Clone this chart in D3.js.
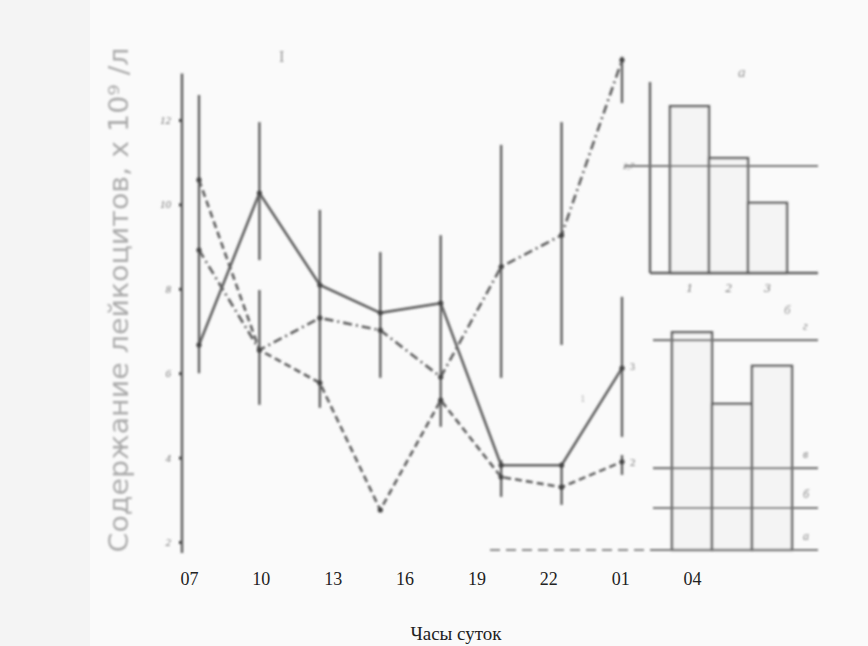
<!DOCTYPE html>
<html>
<head>
<meta charset="utf-8">
<script src="https://cdn.jsdelivr.net/npm/d3@7"></script>
<style>
  body { margin: 0; background: #fafafa; }
  svg { display: block; }
</style>
</head>
<body>
<svg id="chart" width="868" height="646"></svg>
<script>
// hours of the day (x categories)
const hours = ["07", "10", "13", "16", "19", "22", "01", "04"];

// leukocyte count, x 10^9 /l
const series1 = [6.67, 10.27, 8.09, 7.43, 7.66, 3.82, 3.82, 6.12];   // solid
const series2 = [10.58, 6.55, 5.77, 2.76, 5.36, 3.54, 3.30, 3.90];   // dashed
const series3 = [8.92, 6.55, 7.31, 7.02, 5.91, 8.52, 9.27, 13.42];   // dash-dot

// error bar segments: [hour, low, high]
const errorBars = [
    ["07", 6.0, 12.59],
    ["10", 8.68, 11.95], ["10", 5.25, 7.97],
    ["13", 5.18, 9.87],
    ["16", 5.89, 8.87],
    ["19", 4.73, 9.27],
    ["22", 5.89, 11.41], ["22", 3.07, 3.94],
    ["01", 6.67, 11.95], ["01", 2.88, 3.82],
    ["04", 4.49, 7.81], ["04", 3.59, 4.06], ["04", 12.4, 13.5]
];

const yTicks = [2, 4, 6, 8, 10, 12];

// panel a (upper bars)
const barsA = ["1", "2", "3"];
const valuesA = [4.21, 2.90, 1.77];
const refA = 2.7;

// panel б (lower bars)
const valuesB = [5.5, 3.69, 4.65];
const levelsB = [
    { name: "г", value: 5.3 },
    { name: "в", value: 2.07 },
    { name: "б", value: 1.06 },
    { name: "а", value: 0 }
];

const svg = d3.select("#chart");
const ink = "#606060";

// slight blur to mimic the scanned print
const defs = svg.append("defs");
defs.append("filter").attr("id", "soft")
    .append("feGaussianBlur").attr("stdDeviation", 0.8);

svg.append("rect").attr("width", 90).attr("height", 646).attr("fill", "#f4f4f4");

const g = svg.append("g").attr("filter", "url(#soft)");

// scales
const x = d3.scalePoint().domain(hours).range([199, 622]);
const xLab = d3.scalePoint().domain(hours).range([189, 692]);
const y = d3.scaleLinear().domain([2, 12]).range([542, 120]);

// y axis
const yAxis = d3.axisLeft(y).tickValues(yTicks).tickSize(3).tickPadding(8);
const ya = g.append("g").attr("transform", "translate(182,0)").call(yAxis);
ya.select(".domain").remove();
ya.append("line").attr("y1", y(13.1)).attr("y2", y(1.74))
    .attr("stroke", ink).attr("stroke-width", 2.5);
ya.selectAll(".tick line").attr("stroke", "#333").attr("stroke-width", 3);
ya.selectAll(".tick text").attr("fill", "#777").style("font-size", "11px")
    .style("font-family", "Liberation Serif").style("font-style", "italic");

// error bars
g.selectAll(".err")
    .data(errorBars)
    .join("line")
    .attr("x1", d => x(d[0])).attr("x2", d => x(d[0]))
    .attr("y1", d => y(d[1])).attr("y2", d => y(d[2]))
    .attr("stroke", ink).attr("stroke-width", 2.4);

// lines
const line = d3.line().x((d, i) => x(hours[i])).y(d => y(d));
const allSeries = [
    { values: series1, dash: null },
    { values: series2, dash: "7,4" },
    { values: series3, dash: "9,4,2,4" }
];
allSeries.forEach(s => {
    g.append("path")
        .datum(s.values)
        .attr("d", line)
        .attr("fill", "none")
        .attr("stroke", ink)
        .attr("stroke-width", 2.6)
        .attr("stroke-dasharray", s.dash);
    g.selectAll(null)
        .data(s.values)
        .join("circle")
        .attr("cx", (d, i) => x(hours[i]))
        .attr("cy", d => y(d))
        .attr("r", 2.6)
        .attr("fill", "#444");
});

// line labels
g.append("text").attr("x", x("04") + 8).attr("y", y(series1[7]) + 2).text("3")
    .attr("fill", "#777").style("font-size", "10px").style("font-family", "Liberation Serif");
g.append("text").attr("x", x("04") + 8).attr("y", y(series2[7]) + 4).text("2")
    .attr("fill", "#777").style("font-size", "11px").style("font-family", "Liberation Serif");
g.append("text").attr("x", 580).attr("y", 402).text("1")
    .attr("fill", "#bbb").style("font-size", "11px").style("font-family", "Liberation Serif");
g.append("text").attr("x", 279).attr("y", 62).text("I")
    .attr("fill", "#999").style("font-size", "16px").style("font-family", "Liberation Serif");

// x labels
const xAxis = d3.axisBottom(xLab).tickSize(0).tickPadding(0);
const xa = svg.append("g").attr("transform", "translate(0,572)").call(xAxis);
xa.select(".domain").remove();
xa.selectAll(".tick text").attr("fill", "#222")
    .style("font-size", "18px").style("font-family", "Liberation Serif");

svg.append("text").attr("x", 456).attr("y", 640).attr("text-anchor", "middle")
    .text("Часы суток").attr("fill", "#222")
    .style("font-size", "19px").style("font-family", "Liberation Serif");

// y title
svg.append("text")
    .attr("transform", "translate(128,300) rotate(-90)")
    .attr("text-anchor", "middle")
    .attr("textLength", 505)
    .attr("lengthAdjust", "spacingAndGlyphs")
    .attr("fill", "#ababab")
    .attr("filter", "url(#soft)")
    .style("font-size", "27px").style("font-family", "DejaVu Sans")
    .text("Содержание лейкоцитов, x 10⁹ /л");

// panel a
const xa2 = d3.scaleBand().domain(barsA).range([670, 787]).padding(0);
const ya2 = d3.scaleLinear().domain([0, 4.82]).range([273, 82]);
g.append("line").attr("x1", 650).attr("x2", 650).attr("y1", ya2(4.82)).attr("y2", ya2(0))
    .attr("stroke", ink).attr("stroke-width", 2.4);
g.selectAll(".barA")
    .data(valuesA)
    .join("rect")
    .attr("x", (d, i) => xa2(barsA[i]))
    .attr("y", d => ya2(d))
    .attr("width", xa2.bandwidth())
    .attr("height", d => ya2(0) - ya2(d))
    .attr("fill", "#f4f4f4")
    .attr("stroke", ink).attr("stroke-width", 2.4);
g.append("line").attr("x1", 650).attr("x2", 818).attr("y1", ya2(0)).attr("y2", ya2(0))
    .attr("stroke", ink).attr("stroke-width", 2.4);
g.append("line").attr("x1", 624).attr("x2", 818).attr("y1", ya2(refA)).attr("y2", ya2(refA))
    .attr("stroke", "#777").attr("stroke-width", 2.2);
g.append("text").attr("x", 623).attr("y", ya2(refA) + 3).text("2,7")
    .attr("fill", "#888").style("font-size", "9px").style("font-family", "Liberation Serif").style("font-style", "italic");
g.selectAll(".labA")
    .data(barsA)
    .join("text")
    .attr("x", d => xa2(d) + xa2.bandwidth() / 2)
    .attr("y", 292)
    .attr("text-anchor", "middle")
    .text(d => d)
    .attr("fill", "#777").style("font-size", "13px").style("font-family", "Liberation Serif").style("font-style", "italic");
g.append("text").attr("x", 738).attr("y", 77).text("а")
    .attr("fill", "#999").style("font-size", "15px").style("font-family", "Liberation Serif").style("font-style", "italic");

// panel б
const xb = d3.scaleBand().domain(barsA).range([672, 792]).padding(0);
const yb = d3.scaleLinear().domain([0, 1]).range([550, 550 - 39.6]);
g.selectAll(".barB")
    .data(valuesB)
    .join("rect")
    .attr("x", (d, i) => xb(barsA[i]))
    .attr("y", d => yb(d))
    .attr("width", xb.bandwidth())
    .attr("height", d => yb(0) - yb(d))
    .attr("fill", "#f4f4f4")
    .attr("stroke", ink).attr("stroke-width", 2.4);
g.selectAll(".levB")
    .data(levelsB)
    .join("line")
    .attr("x1", d => d.value === 0 ? 650 : 653).attr("x2", 818)
    .attr("y1", d => yb(d.value)).attr("y2", d => yb(d.value))
    .attr("stroke", "#777").attr("stroke-width", 2.2);
g.append("line").attr("x1", 490).attr("x2", 650).attr("y1", yb(0)).attr("y2", yb(0))
    .attr("stroke", "#888").attr("stroke-width", 1.8).attr("stroke-dasharray", "10,6");
g.selectAll(".levLab")
    .data(levelsB)
    .join("text")
    .attr("x", 803)
    .attr("y", d => yb(d.value) - 10)
    .text(d => d.name)
    .attr("fill", "#888").style("font-size", "12px").style("font-family", "Liberation Serif").style("font-style", "italic");
g.append("text").attr("x", 784).attr("y", 314).text("б")
    .attr("fill", "#999").style("font-size", "13px").style("font-family", "Liberation Serif").style("font-style", "italic");
</script>
</body>
</html>
